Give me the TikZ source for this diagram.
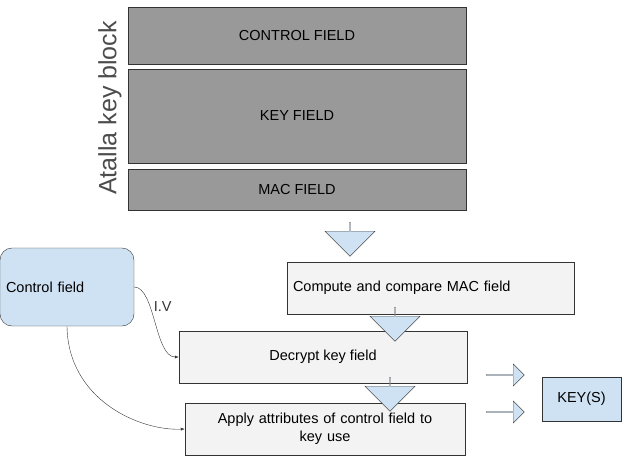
\documentclass[tikz,border=0pt]{standalone}
\usepackage{fontspec}
\setmainfont{Liberation Sans}
\usetikzlibrary{shapes.arrows,arrows.meta}
\definecolor{fieldgray}{HTML}{999999}
\definecolor{stepgray}{HTML}{F3F3F3}
\definecolor{lightblue}{HTML}{CFE2F3}
\tikzset{
  field/.style={draw=black!80,fill=fieldgray,minimum width=338pt,inner sep=0pt,font=\fontsize{14.5}{18}\selectfont},
  stage/.style={draw=black!80,fill=stepgray,inner sep=0pt,font=\fontsize{14.5}{18}\selectfont,align=center},
  bluebox/.style={draw=black!80,fill=lightblue,inner sep=0pt,font=\fontsize{14.5}{18}\selectfont},
  bigarrow/.style={single arrow,draw=black!70,fill=lightblue,minimum height=34pt,minimum width=50pt,single arrow head extend=10pt,single arrow tip angle=90,inner sep=0pt},
  link/.style={-{Latex[length=4pt,width=3pt]},black!80}
}
\begin{document}
\begin{tikzpicture}[x=1pt,y=-1pt]
\useasboundingbox (0,0) rectangle (624,458);
% key block fields
\node[field,minimum height=57pt] (ctrl) at (297,35.5) {CONTROL FIELD};
\node[field,minimum height=94pt] (key) at (297,116) {KEY FIELD};
\node[field,minimum height=41pt] (mac) at (297,189.5) {MAC FIELD};
\node[rotate=90,font=\fontsize{25}{28}\selectfont,text=black!70] (title) at (110,108) {Atalla key block};

% steps
\node[stage,minimum width=287pt,minimum height=52pt,text width=275pt,align=left] (compute) at (430.5,288) {Compute and compare MAC field};
\node[stage,minimum width=288pt,minimum height=52pt] (decrypt) at (323,357) {Decrypt key field};
\node[stage,minimum width=280pt,minimum height=52pt,text width=270pt] (apply) at (325,429) {Apply attributes of control field to\\key use};
\node[bluebox,rounded corners=12pt,minimum width=134pt,minimum height=78pt,text width=122pt] (control) at (67,287) {Control field};
\node[bluebox,minimum width=79pt,minimum height=44pt] (keys) at (581.5,399) {KEY(S)};

% block arrows
\node[bigarrow,rotate=-90] (a1) at (350,239) {};
\node[bigarrow,rotate=-90] (a2) at (395,324) {};
\node[bigarrow,rotate=-90] (a3) at (390,394) {};
\node[bigarrow,minimum height=38pt,minimum width=22pt,single arrow head extend=4pt] (a4) at (505,375) {};
\node[bigarrow,minimum height=38pt,minimum width=22pt,single arrow head extend=4pt] (a5) at (505,412) {};

% links
\draw[link] (control.east) .. controls (155,287) and (155,357) .. node[right,pos=0.35,font=\fontsize{14.5}{18}\selectfont]{I.V} (decrypt.west);
\draw[link] (control.south) .. controls (68,400) and (140,431) .. (apply.west);
\end{tikzpicture}
\end{document}
